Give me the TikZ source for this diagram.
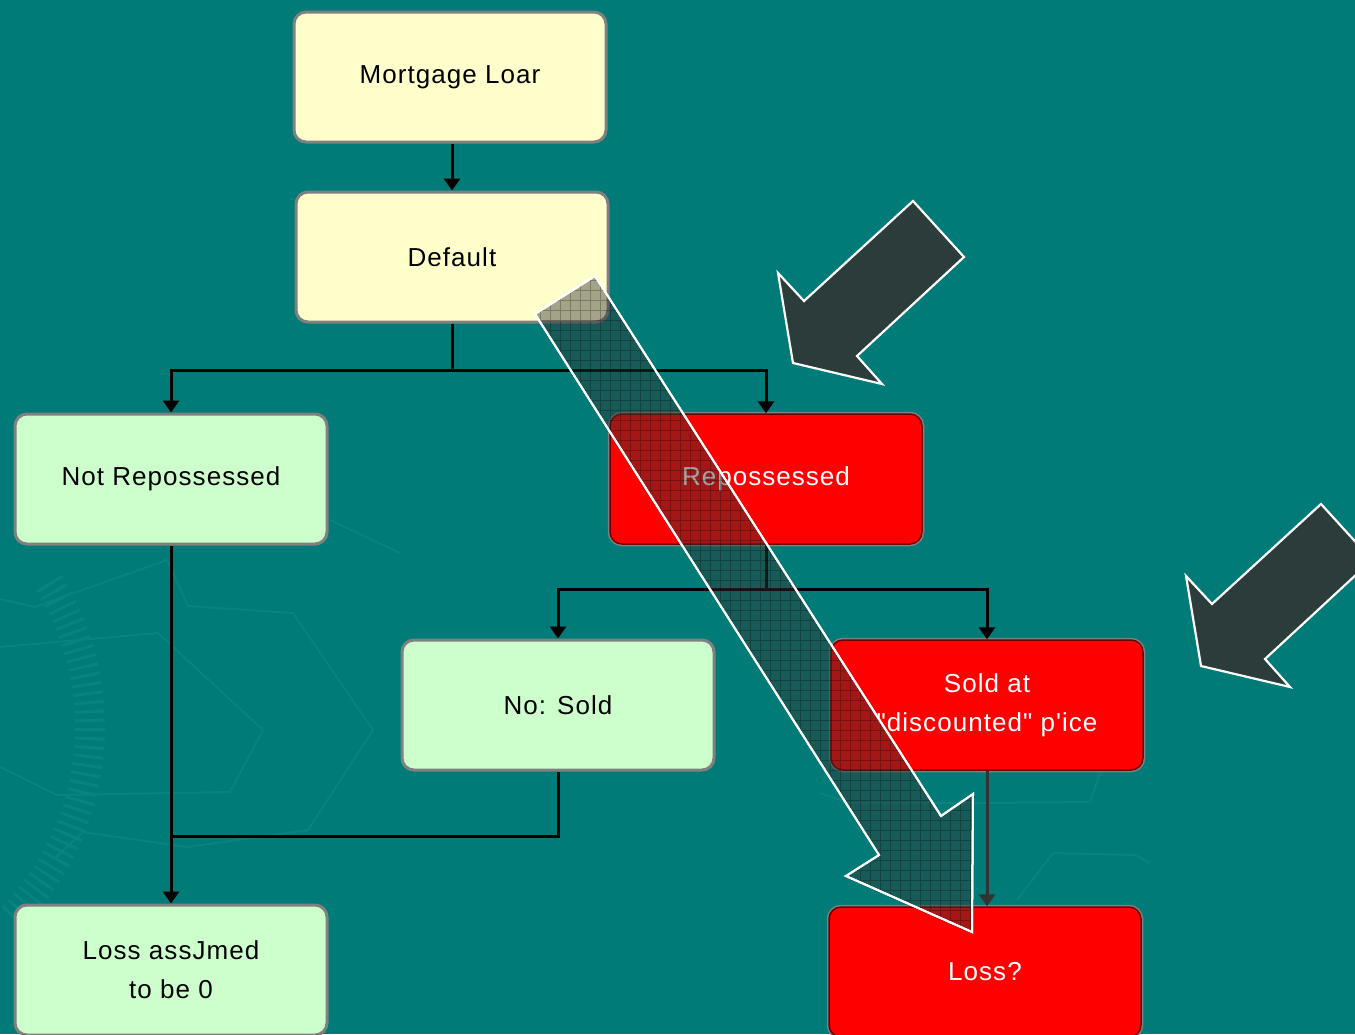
\documentclass[tikz,border=0pt]{standalone}
\usepackage{fontspec}
% a plain family without TeX quote ligatures, so " and ' stay straight
\newfontfamily\boxfont{Liberation Sans}[LetterSpace=4]
\usetikzlibrary{arrows.meta}

\definecolor{bg}{RGB}{0,123,120}
\definecolor{bgline}{RGB}{9,131,127}
\definecolor{paleyellow}{RGB}{255,255,204}
\definecolor{palegreen}{RGB}{204,255,204}
\definecolor{boxedge}{RGB}{128,128,128}
\definecolor{hotred}{RGB}{255,0,0}
\definecolor{darkred}{RGB}{110,0,0}
\definecolor{shade}{RGB}{51,51,51}

\begin{document}
\begin{tikzpicture}[x=1pt,y=-1pt,
  box/.style={rectangle, rounded corners=12pt, minimum width=312pt,
    minimum height=130pt, draw=boxedge, line width=3pt, inner sep=0pt,
    align=center, font=\boxfont\fontsize{26}{39}\selectfont},
  calm/.style={box, fill=paleyellow},
  safe/.style={box, fill=palegreen},
  risk/.style={box, fill=hotred, text=white,
    preaction={draw=boxedge, line width=4.5pt}, draw=darkred, line width=1.5pt},
  wire/.style={line width=3pt, draw=black},
  link/.style={wire, -{Triangle[width=16pt,length=12pt]}},
  faint/.style={draw=bgline, line width=2pt},
  glassarrow/.style={fill=shade, fill opacity=0.45, draw=white, line width=2pt},
  darkarrow/.style={fill=shade, fill opacity=0.87, draw=white, line width=2.2pt},
]
\useasboundingbox (0,0) rectangle (1355,1034);
\clip (0,0) rectangle (1355,1034);
\fill[bg] (0,0) rectangle (1355,1034);

% faint background ornament
\draw[bgline, line width=30pt, dash pattern=on 3pt off 6pt]
  (-182,727) ++(-32:272) arc[start angle=-32, end angle=45, radius=272];
\draw[faint] (0,599) -- (35,607) -- (167,560) -- (188,606) -- (293,613)
  -- (373,730) -- (308,830) -- (187,847) -- (83,832) -- (55,858);
\draw[faint] (0,647) -- (158,633) -- (263,730) -- (230,792) -- (57,795) -- (0,767);
\draw[faint] (330,520) -- (400,553);
\draw[faint] (820,793) -- (850,803) -- (990,803) -- (1090,802) -- (1100,773);
\draw[faint] (1017,900) -- (1053,853) -- (1135,855) -- (1150,863);

% boxes
\node[calm] (loan)    at (450,77)  {Mortgage Loar};
\node[calm] (default) at (452,257) {Default};
\node[safe] (notrep)  at (171,479) {Not Repossessed};
\node[risk] (rep)     at (766,479) {Repossessed};
\node[safe] (notsold) at (558,705) {No: Sold};
\node[risk] (sold)    at (987,705) {Sold at\\"discounted" p'ice};
\node[safe] (lossz)   at (171,970) {Loss assJmed\\to be 0};
\node[risk] (lossq)   at (985,972) {Loss?};

% connectors
\draw[link] (loan.south -| 452,0) -- (default.north -| 452,0);
\draw[wire] (default.south) -- ++(0,47) coordinate (split1);
\draw[link] (split1) -| (notrep.north);
\draw[link] (split1) -| (rep.north);
\draw[wire] (rep.south) -- ++(0,45) coordinate (split2);
\draw[link] (split2) -| (notsold.north);
\draw[link] (split2) -| (sold.north);
\draw[link] (notrep.south) -- (lossz.north);
\draw[wire] (notsold.south) |- (notrep.south |- 0,836);
\draw[link, draw=black!80] (sold.south) -- (sold.south |- lossq.north);

% translucent long arrow
\path[glassarrow] (535,314) -- (595,276) -- (941,816) -- (973,794)
  -- (972,932) -- (846,876) -- (879,855) -- cycle;
\begin{scope}
  \clip (535,314) -- (595,276) -- (941,816) -- (973,794)
    -- (972,932) -- (846,876) -- (879,855) -- cycle;
  \draw[black, opacity=0.25, line width=0.8pt, step=10pt] (520,260) grid (990,950);
\end{scope}
\draw[white, line width=2pt] (535,314) -- (595,276) -- (941,816) -- (973,794)
  -- (972,932) -- (846,876) -- (879,855) -- cycle;

% dark pointer arrows
\foreach \dx/\dy in {0/0, 408/303} {
  \begin{scope}[shift={(\dx,\dy)}]
    \path[darkarrow] (913,201) -- (964,257) -- (857,356) -- (882,384)
      -- (793,363) -- (778,273) -- (804,301) -- cycle;
  \end{scope}
}
\end{tikzpicture}
\end{document}
